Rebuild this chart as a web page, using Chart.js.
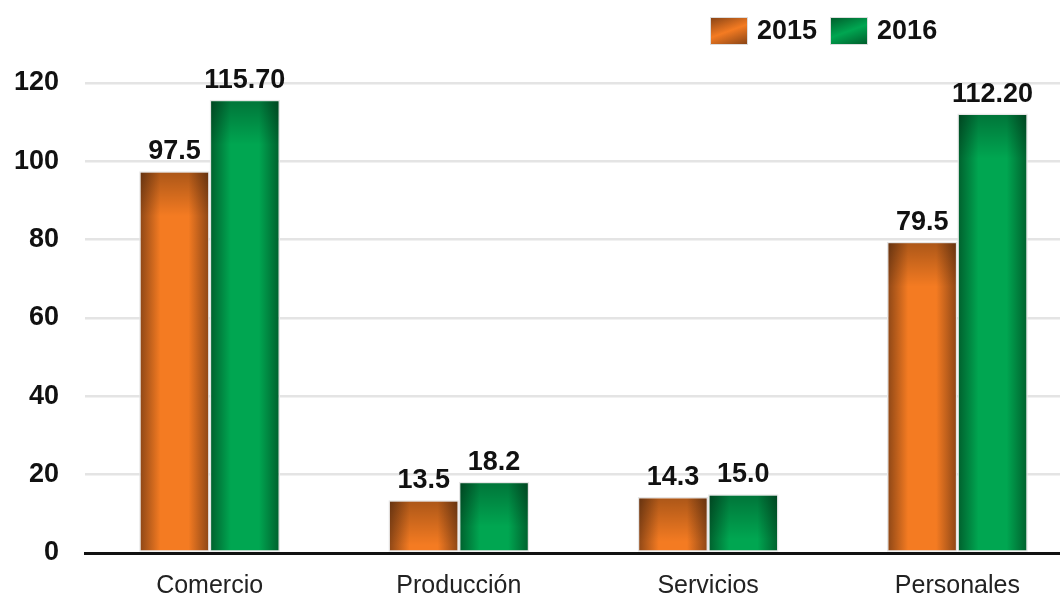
<!DOCTYPE html>
<html>
<head>
<meta charset="utf-8">
<script src="https://cdn.jsdelivr.net/npm/chart.js@4/dist/chart.umd.min.js"></script>
<style>
  html,body{margin:0;padding:0;background:#fff;overflow:hidden;}
  #wrap{position:relative;width:1060px;height:598px;overflow:hidden;}
  #legend{position:absolute;left:710px;top:15px;display:flex;align-items:center;
    font:bold 27px "Liberation Sans",Arial,sans-serif;color:#111;}
  #legend .item{display:flex;align-items:center;margin-right:13px;}
  #legend .box{width:38px;height:28px;margin-right:9px;box-sizing:border-box;border:1px solid #ddd;}
</style>
</head>
<body>
<div id="wrap">
  <!-- el lienzo es más ancho que la ventana: la última categoría queda recortada a la derecha -->
  <canvas id="c" width="1082" height="598"></canvas>
  <div id="legend"></div>
</div>
<script>
// ── Datos ─────────────────────────────────────────────────────────────
const categorias = ['Comercio','Producción','Servicios','Personales'];
const series     = ['2015','2016'];
const valores2015 = [97.5, 13.5, 14.3, 79.5];
const valores2016 = [115.7, 18.2, 15.0, 112.2];
const etiquetas2015 = ['97.5','13.5','14.3','79.5'];
const etiquetas2016 = ['115.70','18.2','15.0','112.20'];
const yTicks = [0,20,40,60,80,100,120];

// colores: [oscuro, claro]
const colores = [['#8a4516','#f47b22'], ['#005e2c','#00a651']];
const FONT = '"Liberation Sans", Arial, sans-serif';

// ── Leyenda HTML ──────────────────────────────────────────────────────
document.getElementById('legend').innerHTML = series.map((s,i)=>
  `<div class="item"><div class="box" style="background:linear-gradient(160deg,${colores[i][0]} 0%,${colores[i][1]} 50%,${colores[i][0]} 100%)"></div>${s}</div>`
).join('');

// ── Degradado por barra ───────────────────────────────────────────────
// backgroundColor es una función, así cada barra tiene sus propias opciones
const barGradient = {
  id:'barGradient',
  beforeDatasetsDraw(chart){
    const ctx=chart.ctx;
    chart.data.datasets.forEach((ds,di)=>{
      const [dark,light]=colores[di];
      chart.getDatasetMeta(di).data.forEach(el=>{
        const x0=el.x-el.width/2, x1=el.x+el.width/2;
        const g=ctx.createLinearGradient(x0,0,x1,0);
        g.addColorStop(0,dark); g.addColorStop(0.3,light);
        g.addColorStop(0.7,light); g.addColorStop(1,dark);
        el.options.backgroundColor=g;
      });
    });
  },
  afterDatasetsDraw(chart){
    const ctx=chart.ctx;
    chart.data.datasets.forEach((ds,di)=>{
      chart.getDatasetMeta(di).data.forEach(el=>{
        const x0=el.x-el.width/2;
        const h=Math.min(45, el.base-el.y);
        const g=ctx.createLinearGradient(0,el.y,0,el.y+h);
        g.addColorStop(0,'rgba(0,0,0,0.3)'); g.addColorStop(1,'rgba(0,0,0,0)');
        ctx.save(); ctx.fillStyle=g;
        ctx.fillRect(x0+1.5,el.y+1.5,el.width-3,h-1.5);
        ctx.restore();
      });
    });
  }
};

// ── Etiquetas de valor ────────────────────────────────────────────────
const valueLabels = {
  id:'valueLabels',
  afterDatasetsDraw(chart){
    const ctx=chart.ctx;
    const textos=[etiquetas2015, etiquetas2016];
    ctx.save();
    ctx.font=`bold 27px ${FONT}`; ctx.fillStyle='#111';
    ctx.textAlign='center'; ctx.textBaseline='alphabetic';
    chart.data.datasets.forEach((ds,di)=>{
      chart.getDatasetMeta(di).data.forEach((el,i)=>{
        ctx.fillText(textos[di][i], el.x, el.y-12);
      });
    });
    ctx.restore();
  }
};

new Chart(document.getElementById('c'), {
  type:'bar',
  data:{
    labels:categorias,
    datasets:[
      { label:series[0], data:valores2015, backgroundColor:()=>colores[0][1], borderColor:'#e6e6e6', borderWidth:1.5, borderSkipped:false },
      { label:series[1], data:valores2016, backgroundColor:()=>colores[1][1], borderColor:'#e6e6e6', borderWidth:1.5, borderSkipped:false },
    ]
  },
  options:{
    responsive:false, animation:false,
    layout:{ padding:{ top:83, right:0, left:0, bottom:0 } },
    datasets:{ bar:{ categoryPercentage:0.565, barPercentage:1 } },
    plugins:{ legend:{display:false}, tooltip:{enabled:false} },
    scales:{
      x:{
        grid:{display:false, drawTicks:false},
        border:{display:true, color:'#111', width:3},
        ticks:{ font:{family:FONT, size:25}, color:'#222', padding:18 },
        afterFit:s=>{ s.height=45; },
      },
      y:{
        min:0, max:120,
        afterBuildTicks:s=>{ s.ticks=yTicks.map(v=>({value:v})); },
        grid:{ color:'#e4e4e4', lineWidth:2.5, drawTicks:false },
        border:{display:false},
        ticks:{ font:{family:FONT, size:27, weight:'bold'}, color:'#111', padding:26 },
        afterFit:s=>{ s.width=85; },
      }
    }
  },
  plugins:[barGradient, valueLabels]
});
</script>
</body>
</html>
